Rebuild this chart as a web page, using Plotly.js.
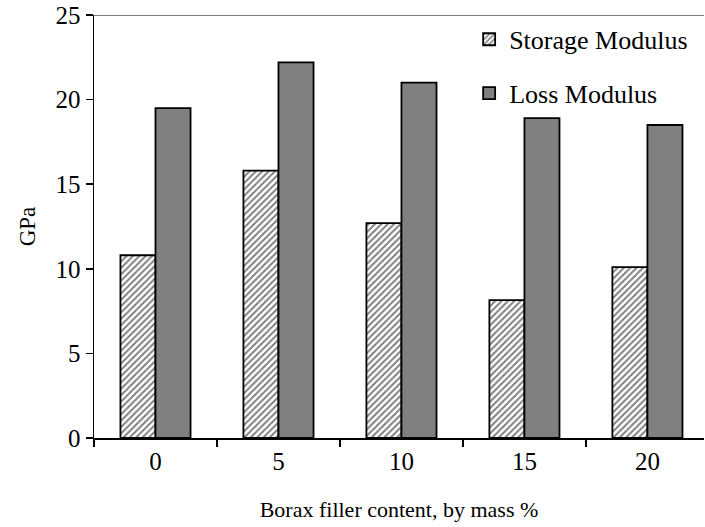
<!DOCTYPE html>
<html>
<head>
<meta charset="utf-8">
<script src="https://cdn.plot.ly/plotly-3.0.1.min.js"></script>
<style>html,body{margin:0;padding:0;background:#fff;}#chart{width:705px;height:527px;}</style>
</head>
<body>
<div id="chart"></div>
<script>
const categories = ["0", "5", "10", "15", "20"];
const storageModulus = [10.8, 15.8, 12.7, 8.15, 10.1];
const lossModulus = [19.5, 22.2, 21.0, 18.9, 18.5];
const yTicks = [0, 5, 10, 15, 20, 25];

const fam = "Liberation Serif, Times New Roman, serif";
const font = {family: fam, color: "#000", size: 25};
const legendFont = {family: fam, color: "#000", size: 26};
const xTitleFont = {family: fam, color: "#000", size: 22};
const yTitleFont = {family: fam, color: "#000", size: 23};

const traces = [
  {
    type: "bar", name: "Storage Modulus", x: categories, y: storageModulus,
    legendgroup: "a",
    marker: {color: "#ffffff", line: {color: "#000", width: 1.8},
      pattern: {shape: "/", fgcolor: "#808080", bgcolor: "#ffffff", size: 4.5, solidity: 0.45}}
  },
  {
    type: "bar", name: "Loss Modulus", x: categories, y: lossModulus,
    legendgroup: "b",
    marker: {color: "#808080", line: {color: "#000", width: 1.8}}
  }
];

const layout = {
  width: 705, height: 527,
  margin: {l: 94, r: 1, t: 15, b: 89},
  paper_bgcolor: "#fff", plot_bgcolor: "#fff",
  font: font,
  barmode: "group", bargap: 0.43, bargroupgap: 0,
  showlegend: true,
  legend: {x: 0.615, y: 0.998, xanchor: "left", yanchor: "top", font: legendFont,
    bgcolor: "rgba(0,0,0,0)", tracegroupgap: 17, traceorder: "grouped", itemwidth: 30},
  xaxis: {
    type: "category", range: [-0.5, 4.46], tickson: "boundaries",
    ticks: "outside", ticklen: 7, tickwidth: 1.5, tickcolor: "#000",
    showline: true, linecolor: "#000", linewidth: 1.5, showgrid: false, zeroline: false,
    tickfont: font,
    title: {text: "Borax filler content, by mass %", font: xTitleFont, standoff: 28}
  },
  yaxis: {
    range: [0, 25], tickvals: yTicks, ticktext: yTicks.map(String),
    ticks: "outside", ticklen: 7, tickwidth: 1.5, tickcolor: "#000",
    showline: true, linecolor: "#000", linewidth: 1.5, showgrid: false, zeroline: false,
    tickfont: font,
    title: {text: "GPa", font: yTitleFont, standoff: 13}
  },
  shapes: [
    {type: "line", xref: "paper", yref: "y", x0: 0, x1: 1, y0: 25, y1: 25,
     line: {color: "#555", width: 1.5}}
  ]
};

Plotly.newPlot("chart", traces, layout, {displayModeBar: false, staticPlot: true});
</script>
</body>
</html>
